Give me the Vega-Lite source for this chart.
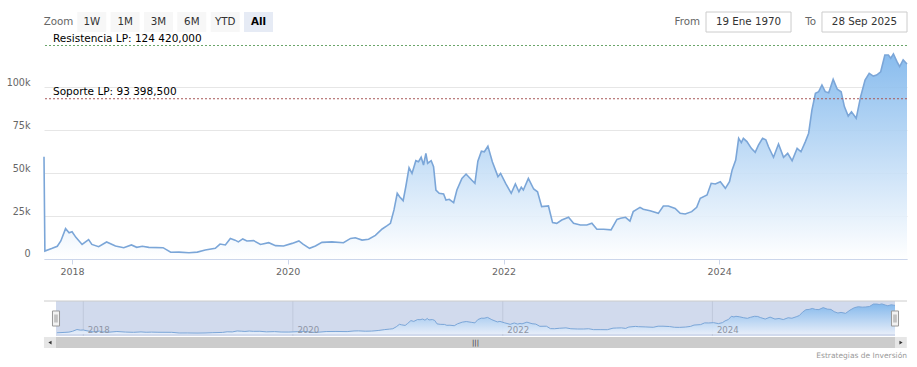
{
  "$schema": "https://vega.github.io/schema/vega-lite/v6.json",
  "width": 863,
  "height": 304,
  "autosize": {"type": "none"},
  "padding": {"left": 44, "top": 44, "right": 10, "bottom": 19},
  "background": "#ffffff",
  "config": {"view": {"stroke": null}, "font": "DejaVu Sans"},
  "title": {"text": "Estrategias de Inversión", "orient": "bottom", "anchor": "end", "frame": "group", "fontSize": 7.5, "fontWeight": "normal", "color": "#999999", "offset": 4},
  "datasets": {
    "btc": [
      {"date": "2017-09-28", "price": 59600},
      {"date": "2017-10-01", "price": 4600},
      {"date": "2017-10-26", "price": 6200},
      {"date": "2017-11-12", "price": 7400},
      {"date": "2017-11-24", "price": 10500},
      {"date": "2017-12-10", "price": 17700},
      {"date": "2017-12-22", "price": 15300},
      {"date": "2018-01-01", "price": 15900},
      {"date": "2018-01-14", "price": 12600},
      {"date": "2018-02-04", "price": 8500},
      {"date": "2018-02-26", "price": 11300},
      {"date": "2018-03-09", "price": 8500},
      {"date": "2018-04-01", "price": 7200},
      {"date": "2018-04-28", "price": 9900},
      {"date": "2018-05-28", "price": 7600},
      {"date": "2018-06-25", "price": 6600},
      {"date": "2018-07-21", "price": 8200},
      {"date": "2018-08-08", "price": 6800},
      {"date": "2018-08-27", "price": 7400},
      {"date": "2018-09-18", "price": 6800},
      {"date": "2018-11-05", "price": 6600},
      {"date": "2018-12-01", "price": 3900},
      {"date": "2018-12-29", "price": 4000},
      {"date": "2019-02-01", "price": 3600},
      {"date": "2019-03-01", "price": 4000},
      {"date": "2019-03-28", "price": 5200},
      {"date": "2019-05-01", "price": 6200},
      {"date": "2019-05-17", "price": 8700},
      {"date": "2019-06-04", "price": 8200},
      {"date": "2019-06-21", "price": 12000},
      {"date": "2019-07-07", "price": 11000},
      {"date": "2019-07-18", "price": 10000},
      {"date": "2019-08-02", "price": 11700},
      {"date": "2019-08-16", "price": 10500},
      {"date": "2019-09-08", "price": 10700},
      {"date": "2019-10-01", "price": 8500},
      {"date": "2019-10-29", "price": 9500},
      {"date": "2019-11-21", "price": 7800},
      {"date": "2019-12-18", "price": 7600},
      {"date": "2020-01-16", "price": 9100},
      {"date": "2020-02-08", "price": 10500},
      {"date": "2020-02-22", "price": 8700},
      {"date": "2020-03-15", "price": 6200},
      {"date": "2020-04-04", "price": 7600},
      {"date": "2020-04-26", "price": 9700},
      {"date": "2020-05-30", "price": 10000},
      {"date": "2020-07-08", "price": 9500},
      {"date": "2020-08-01", "price": 12000},
      {"date": "2020-08-17", "price": 12400},
      {"date": "2020-09-09", "price": 11000},
      {"date": "2020-10-01", "price": 11500},
      {"date": "2020-10-24", "price": 13800},
      {"date": "2020-11-16", "price": 17500},
      {"date": "2020-12-03", "price": 19400},
      {"date": "2020-12-14", "price": 20800},
      {"date": "2020-12-26", "price": 28600},
      {"date": "2021-01-06", "price": 38300},
      {"date": "2021-01-14", "price": 36300},
      {"date": "2021-01-26", "price": 34000},
      {"date": "2021-02-04", "price": 42100},
      {"date": "2021-02-15", "price": 53200},
      {"date": "2021-02-25", "price": 49900},
      {"date": "2021-03-10", "price": 57300},
      {"date": "2021-03-19", "price": 56700},
      {"date": "2021-03-28", "price": 59300},
      {"date": "2021-04-05", "price": 54800},
      {"date": "2021-04-13", "price": 61600},
      {"date": "2021-04-19", "price": 55800},
      {"date": "2021-05-01", "price": 57300},
      {"date": "2021-05-09", "price": 53800},
      {"date": "2021-05-17", "price": 40200},
      {"date": "2021-05-28", "price": 38300},
      {"date": "2021-06-12", "price": 37900},
      {"date": "2021-06-20", "price": 34400},
      {"date": "2021-07-01", "price": 34800},
      {"date": "2021-07-16", "price": 32800},
      {"date": "2021-07-27", "price": 40200},
      {"date": "2021-08-13", "price": 47000},
      {"date": "2021-08-27", "price": 49500},
      {"date": "2021-09-15", "price": 46000},
      {"date": "2021-09-26", "price": 44100},
      {"date": "2021-10-06", "price": 57000},
      {"date": "2021-10-18", "price": 62800},
      {"date": "2021-10-28", "price": 62500},
      {"date": "2021-11-09", "price": 65800},
      {"date": "2021-11-24", "price": 56700},
      {"date": "2021-12-13", "price": 48000},
      {"date": "2021-12-22", "price": 49900},
      {"date": "2022-01-08", "price": 44100},
      {"date": "2022-01-27", "price": 38300},
      {"date": "2022-02-10", "price": 43700},
      {"date": "2022-02-22", "price": 39200},
      {"date": "2022-03-02", "price": 41800},
      {"date": "2022-03-09", "price": 40200},
      {"date": "2022-03-26", "price": 47000},
      {"date": "2022-04-13", "price": 40800},
      {"date": "2022-04-26", "price": 39200},
      {"date": "2022-05-10", "price": 30500},
      {"date": "2022-06-02", "price": 30900},
      {"date": "2022-06-16", "price": 21200},
      {"date": "2022-06-30", "price": 20800},
      {"date": "2022-07-17", "price": 22700},
      {"date": "2022-08-09", "price": 24300},
      {"date": "2022-08-26", "price": 20800},
      {"date": "2022-09-18", "price": 19800},
      {"date": "2022-10-10", "price": 19800},
      {"date": "2022-10-27", "price": 20800},
      {"date": "2022-11-13", "price": 17300},
      {"date": "2022-12-06", "price": 17300},
      {"date": "2022-12-31", "price": 17000},
      {"date": "2023-01-20", "price": 23100},
      {"date": "2023-02-01", "price": 23700},
      {"date": "2023-02-18", "price": 24300},
      {"date": "2023-03-05", "price": 22100},
      {"date": "2023-03-16", "price": 27600},
      {"date": "2023-04-08", "price": 30100},
      {"date": "2023-04-19", "price": 29000},
      {"date": "2023-05-12", "price": 28100},
      {"date": "2023-06-09", "price": 26600},
      {"date": "2023-06-26", "price": 30900},
      {"date": "2023-07-13", "price": 30900},
      {"date": "2023-08-05", "price": 29500},
      {"date": "2023-08-22", "price": 26600},
      {"date": "2023-09-08", "price": 26200},
      {"date": "2023-09-30", "price": 27600},
      {"date": "2023-10-17", "price": 30100},
      {"date": "2023-10-29", "price": 35400},
      {"date": "2023-11-21", "price": 37300},
      {"date": "2023-12-05", "price": 44100},
      {"date": "2023-12-19", "price": 43700},
      {"date": "2024-01-05", "price": 45000},
      {"date": "2024-01-22", "price": 41200},
      {"date": "2024-02-05", "price": 45000},
      {"date": "2024-02-14", "price": 51900},
      {"date": "2024-02-26", "price": 57700},
      {"date": "2024-03-07", "price": 70300},
      {"date": "2024-03-16", "price": 67800},
      {"date": "2024-03-23", "price": 70300},
      {"date": "2024-04-04", "price": 68400},
      {"date": "2024-04-19", "price": 64500},
      {"date": "2024-05-02", "price": 62200},
      {"date": "2024-05-13", "price": 66400},
      {"date": "2024-05-27", "price": 70300},
      {"date": "2024-06-07", "price": 69500},
      {"date": "2024-06-16", "price": 65400},
      {"date": "2024-07-03", "price": 59300},
      {"date": "2024-07-20", "price": 67000},
      {"date": "2024-08-06", "price": 59300},
      {"date": "2024-08-20", "price": 61600},
      {"date": "2024-09-04", "price": 57300},
      {"date": "2024-09-21", "price": 64500},
      {"date": "2024-10-04", "price": 62500},
      {"date": "2024-10-19", "price": 68400},
      {"date": "2024-10-30", "price": 73300},
      {"date": "2024-11-10", "price": 86800},
      {"date": "2024-11-22", "price": 96600},
      {"date": "2024-12-03", "price": 97500},
      {"date": "2024-12-14", "price": 101400},
      {"date": "2024-12-25", "price": 97500},
      {"date": "2025-01-06", "price": 96900},
      {"date": "2025-01-21", "price": 104700},
      {"date": "2025-02-04", "price": 98900},
      {"date": "2025-02-17", "price": 97500},
      {"date": "2025-02-28", "price": 88800},
      {"date": "2025-03-13", "price": 83300},
      {"date": "2025-03-24", "price": 85800},
      {"date": "2025-04-09", "price": 82000},
      {"date": "2025-04-24", "price": 94600},
      {"date": "2025-05-09", "price": 104300},
      {"date": "2025-05-23", "price": 108200},
      {"date": "2025-06-06", "price": 106600},
      {"date": "2025-06-17", "price": 107200},
      {"date": "2025-07-01", "price": 109100},
      {"date": "2025-07-15", "price": 118900},
      {"date": "2025-07-27", "price": 118900},
      {"date": "2025-08-04", "price": 117000},
      {"date": "2025-08-13", "price": 119500},
      {"date": "2025-08-25", "price": 115000},
      {"date": "2025-09-03", "price": 112100},
      {"date": "2025-09-15", "price": 116000},
      {"date": "2025-09-28", "price": 113600}
    ],
    "lines": [
      {"label": "Resistencia LP: 124 420,000", "value": 124420, "kind": "res"},
      {"label": "Soporte LP: 93 398,500", "value": 93398.5, "kind": "sup"}
    ],
    "navticks": [
      {"date": "2018-01-01"},
      {"date": "2020-01-01"},
      {"date": "2022-01-01"},
      {"date": "2024-01-01"}
    ],
    "buttons": [
      {"label": "Zoom", "kind": "label"},
      {"label": "1W", "kind": "button"},
      {"label": "1M", "kind": "button"},
      {"label": "3M", "kind": "button"},
      {"label": "6M", "kind": "button"},
      {"label": "YTD", "kind": "button"},
      {"label": "All", "kind": "selected"}
    ],
    "boxes": [
      {"prefix": "From", "value": "19 Ene 1970"},
      {"prefix": "To", "value": "28 Sep 2025"}
    ],
    "one": [{}]
  },
  "layer": [
    {
      "layer": [
        {
          "data": {"name": "btc"},
          "mark": {"type": "area", "fillOpacity": 0.9, "fill": {"gradient": "linear", "x1": 0, "y1": 0, "x2": 0, "y2": 1, "stops": [{"offset": 0, "color": "#7cb5ec"}, {"offset": 1, "color": "#ffffff"}]}},
          "encoding": {
            "x": {"field": "date", "type": "temporal",
              "scale": {"domain": [{"year": 2017, "month": 9, "date": 28}, {"year": 2025, "month": 9, "date": 28}], "nice": false},
              "axis": {"orient": "bottom", "offset": -89, "values": [{"year": 2018, "month": 1, "date": 1}, {"year": 2020, "month": 1, "date": 1}, {"year": 2022, "month": 1, "date": 1}, {"year": 2024, "month": 1, "date": 1}], "format": "%Y", "grid": false, "domainColor": "#ccd6eb", "tickColor": "#ccd6eb", "tickSize": 5, "labelPadding": 2, "labelFontSize": 9.5, "labelColor": "#666666", "labelFlush": false, "labelOverlap": false, "title": null}},
            "y": {"field": "price", "type": "quantitative",
              "scale": {"domain": [-51870, 125300], "nice": false, "zero": false},
              "axis": {"orient": "left", "values": [0, 25000, 50000, 75000, 100000], "labelExpr": "datum.value === 0 ? '0' : format(datum.value / 1000, 'd') + 'k'", "grid": true, "gridColor": "#e6e6e6", "domain": false, "ticks": false, "labelPadding": 14, "labelOffset": -5, "labelBaseline": "middle", "labelFontSize": 9.6, "labelColor": "#666666", "title": null}},
            "y2": {"datum": 0}
          }
        },
        {
          "data": {"name": "btc"},
          "mark": {"type": "line", "color": "#7ba6d8", "strokeWidth": 1.6},
          "encoding": {
            "x": {"field": "date", "type": "temporal"},
            "y": {"field": "price", "type": "quantitative"}
          }
        },
        {
          "data": {"name": "lines"},
          "mark": {"type": "rule", "strokeDash": [2, 2], "strokeWidth": 1},
          "encoding": {
            "y": {"field": "value", "type": "quantitative"},
            "color": {"condition": {"test": "datum.kind === 'res'", "value": "#6aa56a"}, "value": "#a85858"}
          }
        },
        {
          "data": {"name": "lines"},
          "mark": {"type": "text", "align": "left", "baseline": "alphabetic", "dx": 9, "dy": -4, "fontSize": 10.5, "color": "#000000"},
          "encoding": {
            "x": {"datum": {"year": 2017, "month": 9, "date": 28}, "type": "temporal"},
            "y": {"field": "value", "type": "quantitative"},
            "text": {"field": "label"}
          }
        }
      ]
    },
    {
      "layer": [
        {
          "data": {"name": "navticks"},
          "mark": {"type": "rule", "color": "#e6e6e6", "strokeWidth": 1},
          "encoding": {
            "x": {"field": "date", "type": "temporal",
              "scale": {"domain": [{"year": 2017, "month": 9, "date": 28}, {"year": 2025, "month": 9, "date": 28}], "range": [12, 851], "nice": false},
              "axis": {"orient": "bottom", "offset": -12, "zindex": 1, "values": [{"year": 2018, "month": 1, "date": 1}, {"year": 2020, "month": 1, "date": 1}, {"year": 2022, "month": 1, "date": 1}, {"year": 2024, "month": 1, "date": 1}], "format": "%Y", "grid": false, "domain": false, "ticks": false, "tickSize": 0, "labelAlign": "left", "labelBaseline": "alphabetic", "labelPadding": -4, "labelOffset": 4, "labelColor": "#8e95a5", "labelFontSize": 8.6, "labelFlush": false, "labelOverlap": false, "title": null}},
            "y": {"datum": 131000, "type": "quantitative", "scale": {"domain": [-8000, 131000], "range": [292, 257], "nice": false, "zero": false}, "axis": null},
            "y2": {"datum": -8000}
          }
        },
        {
          "data": {"name": "btc"},
          "mark": {"type": "rect", "color": "#6685c2", "opacity": 0.3},
          "encoding": {
            "x": {"aggregate": "min", "field": "date", "type": "temporal"},
            "x2": {"aggregate": "max", "field": "date"},
            "y": {"datum": 131000, "type": "quantitative"},
            "y2": {"datum": -8000}
          }
        },
        {
          "data": {"name": "btc"},
          "transform": [{"filter": {"field": "date", "gt": {"year": 2017, "month": 9, "date": 29}}}],
          "mark": {"type": "area", "fillOpacity": 0.9, "fill": {"gradient": "linear", "x1": 0, "y1": 0, "x2": 0, "y2": 1, "stops": [{"offset": 0, "color": "#7cb5ec"}, {"offset": 1, "color": "#e8effa"}]}},
          "encoding": {
            "x": {"field": "date", "type": "temporal"},
            "y": {"field": "price", "type": "quantitative"},
            "y2": {"datum": 0}
          }
        },
        {
          "data": {"name": "btc"},
          "transform": [{"filter": {"field": "date", "gt": {"year": 2017, "month": 9, "date": 29}}}],
          "mark": {"type": "line", "color": "#7ba6d8", "strokeWidth": 1},
          "encoding": {
            "x": {"field": "date", "type": "temporal"},
            "y": {"field": "price", "type": "quantitative"}
          }
        },
        {
          "data": {"name": "one"},
          "mark": {"type": "rule", "color": "#cccccc", "strokeWidth": 1},
          "encoding": {
            "y": {"datum": 131000, "type": "quantitative"}
          }
        },
        {
          "data": {"name": "one"},
          "mark": {"type": "rect", "color": "#e6e6e6"},
          "encoding": {
            "x": {"datum": {"year": 2017, "month": 8, "date": 17}, "type": "temporal"},
            "x2": {"datum": {"year": 2025, "month": 11, "date": 8}},
            "y": {"datum": -12000, "type": "quantitative"},
            "y2": {"datum": -55700}
          }
        },
        {
          "data": {"name": "btc"},
          "mark": {"type": "rect", "color": "#cccccc"},
          "encoding": {
            "x": {"aggregate": "min", "field": "date", "type": "temporal"},
            "x2": {"aggregate": "max", "field": "date"},
            "y": {"datum": -12000, "type": "quantitative"},
            "y2": {"datum": -55700}
          }
        },
        {
          "data": {"name": "one"},
          "mark": {"type": "point", "shape": "triangle-left", "size": 14, "filled": true, "color": "#333333", "opacity": 1},
          "encoding": {
            "x": {"datum": {"year": 2017, "month": 9, "date": 7}, "type": "temporal"},
            "y": {"datum": -33850, "type": "quantitative"}
          }
        },
        {
          "data": {"name": "one"},
          "mark": {"type": "point", "shape": "triangle-right", "size": 14, "filled": true, "color": "#333333", "opacity": 1},
          "encoding": {
            "x": {"datum": {"year": 2025, "month": 10, "date": 19}, "type": "temporal"},
            "y": {"datum": -33850, "type": "quantitative"}
          }
        },
        {
          "data": {"name": "one"},
          "mark": {"type": "text", "text": "|||", "fontSize": 7, "baseline": "middle", "align": "center", "color": "#333333"},
          "encoding": {
            "x": {"datum": {"year": 2021, "month": 9, "date": 28}, "type": "temporal"},
            "y": {"datum": -33850, "type": "quantitative"}
          }
        },
        {
          "data": {"name": "btc"},
          "mark": {"type": "point", "shape": "M-0.44,-0.94H0.44V0.94H-0.44Z M-0.12,-0.5V0.5 M0.12,-0.5V0.5", "size": 256, "filled": true, "fill": "#f2f2f2", "stroke": "#999999", "strokeWidth": 1, "opacity": 1},
          "encoding": {
            "x": {"aggregate": "min", "field": "date", "type": "temporal"},
            "y": {"datum": 61500, "type": "quantitative"}
          }
        },
        {
          "data": {"name": "btc"},
          "mark": {"type": "point", "shape": "M-0.44,-0.94H0.44V0.94H-0.44Z M-0.12,-0.5V0.5 M0.12,-0.5V0.5", "size": 256, "filled": true, "fill": "#f2f2f2", "stroke": "#999999", "strokeWidth": 1, "opacity": 1},
          "encoding": {
            "x": {"aggregate": "max", "field": "date", "type": "temporal"},
            "y": {"datum": 61500, "type": "quantitative"}
          }
        }
      ]
    },
    {
      "layer": [
        {
          "data": {"name": "buttons"},
          "layer": [
            {
              "transform": [{"filter": "datum.kind !== 'label'"}],
              "mark": {"type": "rect"},
              "encoding": {
                "x": {"field": "label", "type": "nominal", "scale": {"type": "band", "domain": ["Zoom", "1W", "1M", "3M", "6M", "YTD", "All"], "range": [0, 229], "paddingInner": 0.13, "paddingOuter": 0}, "axis": null},
                "y": {"datum": "r", "type": "nominal", "scale": {"type": "band", "domain": ["r"], "range": [-32, -12], "paddingInner": 0, "paddingOuter": 0}, "axis": null},
                "color": {"condition": {"test": "datum.kind === 'selected'", "value": "#e6ebf5"}, "value": "#f7f7f7"}
              }
            },
            {
              "transform": [{"filter": "datum.kind !== 'selected'"}],
              "mark": {"type": "text", "align": "center", "baseline": "middle", "fontSize": 10.3},
              "encoding": {
                "x": {"field": "label", "type": "nominal"},
                "y": {"datum": "r", "type": "nominal"},
                "text": {"field": "label"},
                "color": {"condition": {"test": "datum.kind === 'label'", "value": "#666666"}, "value": "#333333"}
              }
            },
            {
              "transform": [{"filter": "datum.kind === 'selected'"}],
              "mark": {"type": "text", "align": "center", "baseline": "middle", "fontSize": 10.3, "fontWeight": "bold", "color": "#000000"},
              "encoding": {
                "x": {"field": "label", "type": "nominal"},
                "y": {"datum": "r", "type": "nominal"},
                "text": {"field": "label"}
              }
            }
          ]
        },
        {
          "data": {"name": "boxes"},
          "layer": [
            {
              "mark": {"type": "rect", "fill": "#ffffff", "stroke": "#cccccc", "strokeWidth": 1},
              "encoding": {
                "x": {"field": "value", "type": "nominal", "scale": {"type": "band", "domain": ["19 Ene 1970", "28 Sep 2025"], "range": [662, 863], "paddingInner": 0.267, "paddingOuter": 0}, "axis": null},
                "y": {"datum": "r", "type": "nominal"}
              }
            },
            {
              "mark": {"type": "text", "align": "center", "baseline": "middle", "fontSize": 10.3, "color": "#333333"},
              "encoding": {
                "x": {"field": "value", "type": "nominal"},
                "y": {"datum": "r", "type": "nominal"},
                "text": {"field": "value"}
              }
            },
            {
              "mark": {"type": "text", "align": "right", "baseline": "middle", "dx": -6, "fontSize": 10.3, "color": "#666666"},
              "encoding": {
                "x": {"field": "value", "type": "nominal", "bandPosition": 0},
                "y": {"datum": "r", "type": "nominal"},
                "text": {"field": "prefix"}
              }
            }
          ]
        }
      ],
      "resolve": {"scale": {"x": "independent"}}
    }
  ],
  "resolve": {"scale": {"x": "independent", "y": "independent"}}
}
